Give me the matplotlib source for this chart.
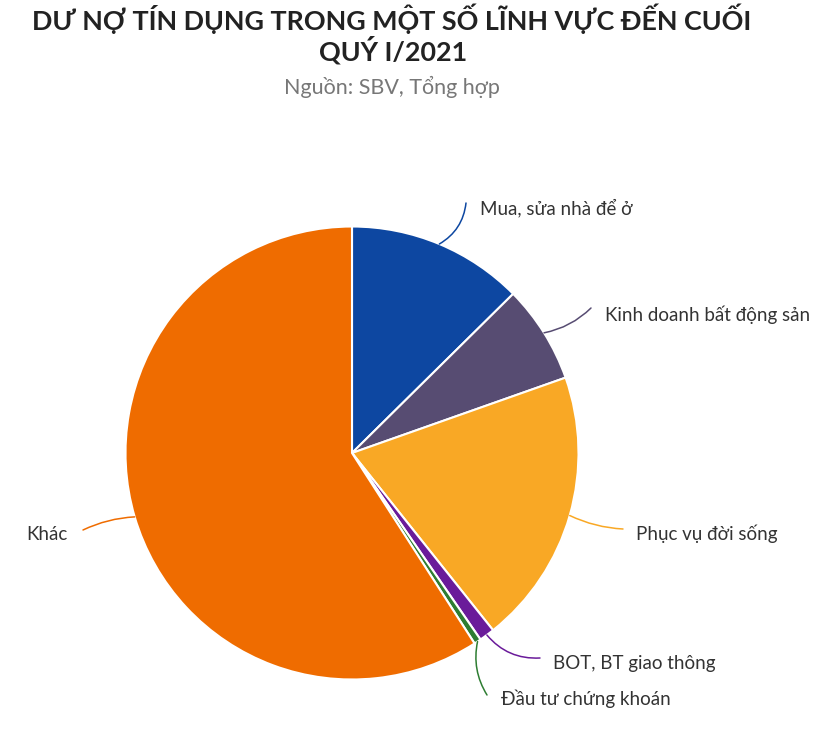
import numpy as np
import matplotlib.pyplot as plt

plt.rcParams['font.family'] = ['Lato', 'DejaVu Sans']

labels = ['Mua, sửa nhà để ở', 'Kinh doanh bất động sản', 'Phục vụ đời sống',
          'BOT, BT giao thông', 'Đầu tư chứng khoán', 'Khác']
shares = [12.6, 7.0, 19.7, 1.1, 0.5, 59.1]
colors = ['#0D47A1', '#574C72', '#F9A825', '#6A1B9A', '#2E7D32', '#EF6C00']

# label text anchor (figure px from top-left) and end of connector line
label_pos = [(480, 208), (605, 315), (636, 534), (553, 663), (501, 699), (68, 535)]
line_end = [(466, 203), (591, 308), (623, 529), (540, 658), (487, 695), (83, 530)]
line_rad = [-0.25, -0.15, -0.1, -0.25, -0.2, -0.1]

W, H = 818, 733
fig = plt.figure(figsize=(W / 100, H / 100), dpi=100)
cx, cy, r = 352, 453, 226.5
ax = fig.add_axes([(cx - r) / W, (H - cy - r) / H, 2 * r / W, 2 * r / H])

wedges, _ = ax.pie(shares, colors=colors, startangle=90, counterclock=False,
                   wedgeprops=dict(edgecolor='white', linewidth=1.5))
ax.set_xlim(-1, 1)
ax.set_ylim(-1, 1)
ax.set_aspect('equal')
ax.axis('off')

for w, lab, (tx, ty), (ex, ey), rad, col in zip(wedges, labels, label_pos,
                                               line_end, line_rad, colors):
    mid = np.deg2rad((w.theta1 + w.theta2) / 2)
    x0, y0 = np.cos(mid), np.sin(mid)
    ax.annotate('', xy=(x0, y0), xycoords='data',
                xytext=(ex, H - ey), textcoords='figure pixels',
                arrowprops=dict(arrowstyle='-', color=col, lw=1.1,
                                shrinkA=0, shrinkB=0,
                                connectionstyle='arc3,rad=%s' % rad),
                annotation_clip=False)
    ha = 'right' if lab == 'Khác' else 'left'
    fig.text(tx / W, 1 - ty / H, lab, ha=ha, va='center', fontsize=13.5,
             color='#333333')

fig.text(391.5 / W, 1 - 19 / H, 'DƯ NỢ TÍN DỤNG TRONG MỘT SỐ LĨNH VỰC ĐẾN CUỐI',
         ha='center', va='center', fontsize=19.4, fontweight='bold', color='#222222')
fig.text(393 / W, 1 - 50 / H, 'QUÝ I/2021', ha='center', va='center',
         fontsize=19.4, fontweight='bold', color='#222222')
fig.text(391.5 / W, 1 - 87 / H, 'Nguồn: SBV, Tổng hợp', ha='center', va='center',
         fontsize=15.5, color='#777777')

fig.savefig('out.png', dpi=100, facecolor='white')
